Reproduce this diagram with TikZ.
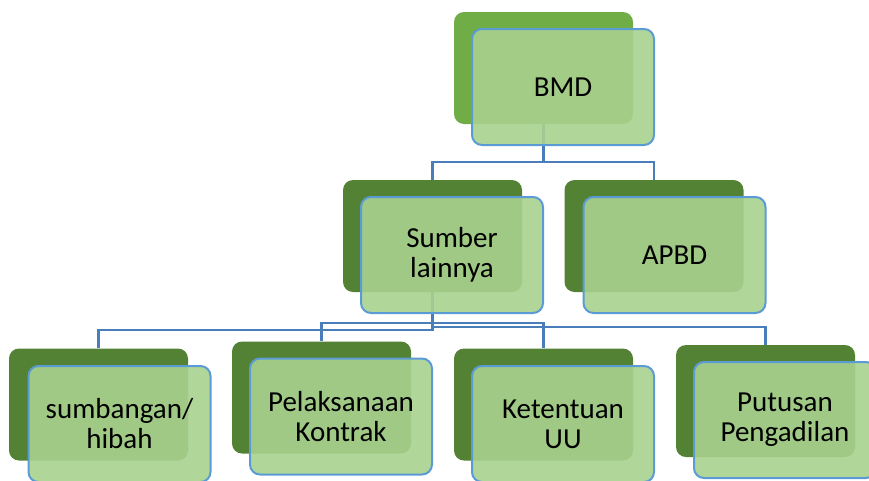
\documentclass[tikz,border=0pt]{standalone}
\usepackage{fontspec}
\setmainfont{Carlito}
\definecolor{backlight}{HTML}{70AD47}
\definecolor{backdark}{HTML}{548235}
\definecolor{frontfill}{HTML}{A9D18E}
\definecolor{frontline}{HTML}{5B9BD5}
\definecolor{conn}{RGB}{74,126,187}
\tikzset{
  backbox/.style={fill=backdark, rounded corners=10pt, minimum width=179pt, minimum height=112pt, inner sep=0pt},
  frontbox/.style={fill=frontfill, fill opacity=0.9, text opacity=1, draw=frontline, line width=2pt, rounded corners=10pt,
     minimum width=182pt, minimum height=116pt, inner sep=0pt, align=center, font=\fontsize{29}{30}\selectfont},
  connline/.style={draw=conn, line width=2.2pt}
}
\begin{document}
\begin{tikzpicture}[x=1pt, y=-1pt]
\useasboundingbox (0,0) rectangle (869,480);
% back boxes
\node[backbox, fill=backlight] (bmdb) at (543.5,68) {};
\node[backbox] (sumb) at (432.5,236) {};
\node[backbox] (apbdb) at (654,236) {};
\node[backbox] (hibb) at (98.5,404.5) {};
\node[backbox] (pelb) at (321.5,397.5) {};
\node[backbox] (ketb) at (543.5,404.5) {};
\node[backbox] (putb) at (765.5,401) {};
% connectors
\draw[connline] (bmdb.south) -- ++(0,38) -| (sumb.north);
\draw[connline] (bmdb.south) -- ++(0,38) -| (apbdb.north);
\draw[connline] (sumb.south) -- ++(0,38) -| (hibb.north);
\draw[connline] (sumb.south) -- ++(0,31) -| (pelb.north);
\draw[connline] (sumb.south) -- ++(0,31) -| (ketb.north);
\draw[connline] (sumb.south) -- ++(0,35) -| (putb.north);
% front boxes
\node[frontbox] (bmd) at (563,87) {BMD};
\node[frontbox] (sum) at (452,255) {Sumber\\lainnya};
\node[frontbox] (apbd) at (674.5,255) {APBD};
\node[frontbox] (hib) at (119.5,424) {sumbangan/\\hibah};
\node[frontbox] (pel) at (341,416.5) {Pelaksanaan\\Kontrak};
\node[frontbox] (ket) at (563,424) {Ketentuan\\UU};
\node[frontbox] (put) at (785,420) {Putusan\\Pengadilan};
\end{tikzpicture}
\end{document}
